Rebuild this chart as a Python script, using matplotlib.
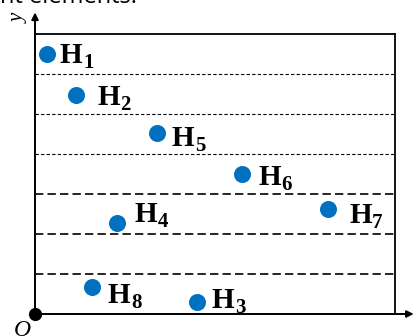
import matplotlib
matplotlib.use("Agg")
import matplotlib.pyplot as plt

# data
names = ['1', '2', '5', '6', '7', '4', '8', '3']
xs = [0.3, 1.03, 3.05, 5.18, 7.33, 2.05, 1.42, 4.05]
ys = [6.5, 5.48, 4.53, 3.5, 2.63, 2.28, 0.68, 0.3]
grid_y = [1, 2, 3, 4, 5, 6]

# label offsets in pixels (dx right, dy up) for the baseline of "H"
label_dx = [13, 21, 15, 16, 21, 18, 16, 15]
label_dy = [-9, -10, -13, -11, -14, 1, -16, -6]

W, H = 414, 336
fig = plt.figure(figsize=(W / 100, H / 100), dpi=100)
x0, x1, ytop, ybot = 35, 395, 34, 314
ax = fig.add_axes([x0 / W, (H - ybot) / H, (x1 - x0) / W, (ybot - ytop) / H])
ax.set_xlim(0, 9)
ax.set_ylim(0, 7)
ax.set_xticks([])
ax.set_yticks([])
for s in ['top', 'right']:
    ax.spines[s].set_linewidth(1.3)
    ax.spines[s].set_color('black')
for s in ['left', 'bottom']:
    ax.spines[s].set_visible(False)

# dashed grid lines
for g in grid_y:
    if g <= 3:
        ax.axhline(g, color='black', lw=1.2, dashes=(5, 2.5))
    else:
        ax.axhline(g, color='black', lw=0.8, dashes=(3, 2))

# axes arrows
ax.annotate('', xy=(0, 1.077), xycoords='axes fraction', xytext=(0, 0),
            textcoords='axes fraction',
            arrowprops=dict(arrowstyle='-|>', color='black', lw=1.4,
                            mutation_scale=10, shrinkA=0, shrinkB=0),
            annotation_clip=False)
ax.annotate('', xy=(1.052, 0), xycoords='axes fraction', xytext=(0, 0),
            textcoords='axes fraction',
            arrowprops=dict(arrowstyle='-|>', color='black', lw=1.4,
                            mutation_scale=10, shrinkA=0, shrinkB=0),
            annotation_clip=False)

# points
ax.scatter(xs, ys, s=150, color='#0070C0', zorder=3, clip_on=False, linewidths=0)
ax.scatter([0], [0], s=90, color='black', zorder=4, clip_on=False, linewidths=0)

for n, x, y, dx, dy in zip(names, xs, ys, label_dx, label_dy):
    ax.annotate('H', xy=(x, y), xytext=(dx, dy),
                textcoords='offset pixels', ha='left', va='baseline',
                fontsize=21, family='Liberation Serif', weight='bold',
                annotation_clip=False)
    ax.annotate(n, xy=(x, y), xytext=(dx + 23, dy - 5),
                textcoords='offset pixels', ha='left', va='baseline',
                fontsize=15, family='Liberation Serif', weight='bold',
                annotation_clip=False)

# axis labels
fig.text(22 / W, 1 - 331 / H, 'O', family='Liberation Serif', style='italic',
         fontsize=17, ha='center', va='center')
fig.text(413 / W, 1 - 333 / H, 'x', family='Liberation Serif', style='italic',
         fontsize=17, ha='left', va='center')
fig.text(19 / W, 1 - 18 / H, 'y', family='Liberation Serif', style='italic',
         fontsize=15, ha='center', va='center', rotation=90)

# cropped caption text at top
fig.text(0, 1 - 3 / H, 'nt elements.', family='Open Sans', fontsize=17,
         ha='left', va='baseline')

fig.savefig('out.png', dpi=100)
